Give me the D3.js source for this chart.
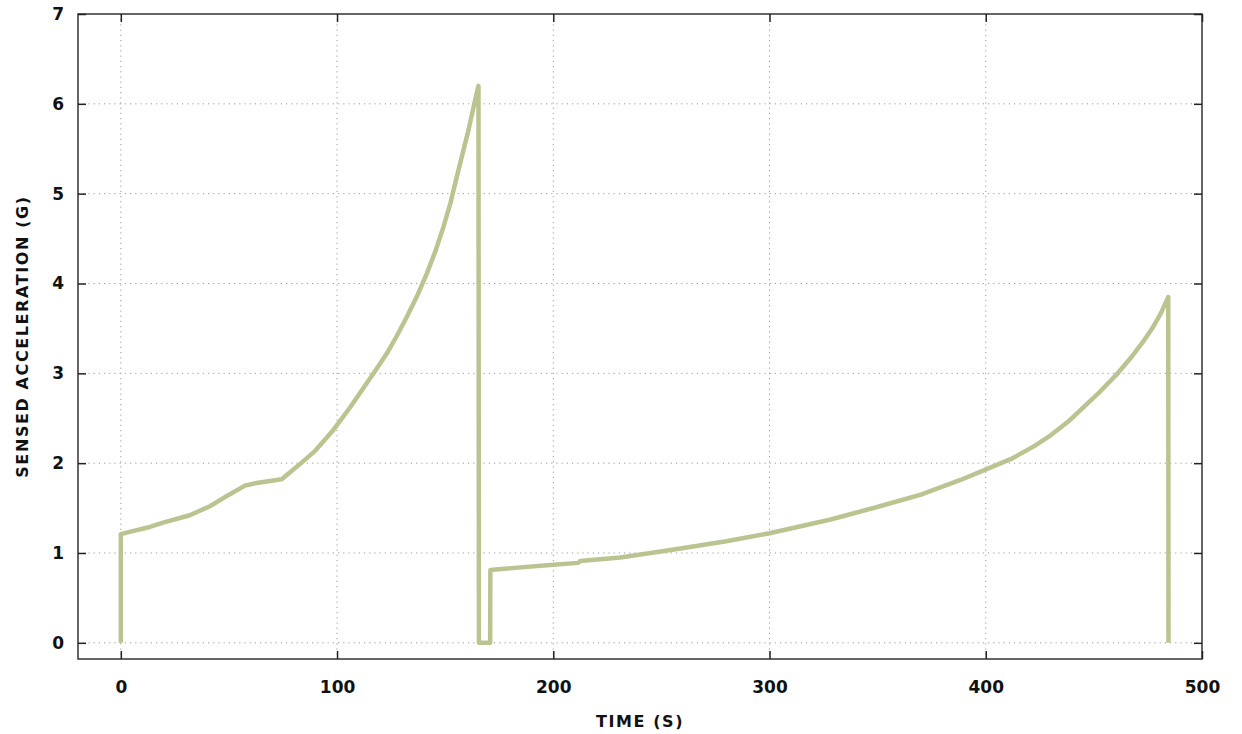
<!DOCTYPE html>
<html>
<head>
<meta charset="utf-8">
<script src="https://cdn.jsdelivr.net/npm/d3@7"></script>
<style>
  html, body { margin: 0; padding: 0; background: #fff; }
  svg { display: block; }
  .tick-label { font-family: "DejaVu Sans", sans-serif; font-weight: bold; font-size: 17px; fill: #111; }
  .axis-title { font-family: "DejaVu Sans", sans-serif; font-weight: bold; font-size: 16px; fill: #111; letter-spacing: 1.6px; }
</style>
</head>
<body>
<svg id="chart" width="1242" height="734"></svg>
<script>
// Sensed acceleration over the flight, two burn phases
const timeS = [0, 0, 5, 13.4, 20, 31.9, 41.2, 48, 57.4, 62.8, 74.4, 84.3, 90, 98.3, 106, 113.7, 118, 123, 127.5, 132.3, 137,
               141.5, 145.5, 149.2, 152.5, 155.4, 158, 160.8, 163, 165.4,
               165.6, 170.8, 170.9, 185, 200, 211.5, 212.5, 231, 245, 258.8, 280, 300, 327.8, 351, 370, 388, 401, 412,
               422.4, 430, 438, 445.5, 453, 461, 467, 473.3, 477.5, 481, 484.4, 484.5];
const accelG = [0, 1.21, 1.24, 1.29, 1.34, 1.42, 1.52, 1.62, 1.75, 1.78, 1.82, 2.02, 2.14, 2.37, 2.62, 2.89, 3.04, 3.22, 3.41, 3.63, 3.86,
                4.11, 4.36, 4.63, 4.9, 5.19, 5.44, 5.71, 5.95, 6.2,
                0.0, 0.0, 0.81, 0.84, 0.87, 0.89, 0.91, 0.95, 1.0, 1.05, 1.13, 1.22, 1.37, 1.52, 1.65, 1.81, 1.94, 2.05,
                2.19, 2.31, 2.46, 2.63, 2.8, 3.0, 3.17, 3.37, 3.52, 3.67, 3.85, 0];
const xTicks = [0, 100, 200, 300, 400, 500];
const yTicks = [0, 1, 2, 3, 4, 5, 6, 7];

const margin = { left: 78, right: 40, top: 14, bottom: 75 };
const W = 1242, H = 734;
const iw = W - margin.left - margin.right;
const ih = H - margin.top - margin.bottom;

const svg = d3.select("#chart");
const g = svg.append("g").attr("transform", `translate(${margin.left},${margin.top})`);

const x = d3.scaleLinear().domain([-19.8, 500]).range([0, iw]);
const y = d3.scaleLinear().domain([-0.18, 7]).range([ih, 0]);

// dotted grid
g.append("g").selectAll("line").data(xTicks.filter(d => d < 500)).join("line")
  .attr("x1", d => x(d)).attr("x2", d => x(d)).attr("y1", 0).attr("y2", ih)
  .attr("stroke", "#9a9a9a").attr("stroke-width", 1).attr("stroke-dasharray", "1.2,4");
g.append("g").selectAll("line").data(yTicks.filter(d => d < 7)).join("line")
  .attr("x1", 0).attr("x2", iw).attr("y1", d => y(d)).attr("y2", d => y(d))
  .attr("stroke", "#9a9a9a").attr("stroke-width", 1).attr("stroke-dasharray", "1.2,4");

// data line
const line = d3.line().x((d, i) => x(timeS[i])).y(d => y(d));
g.append("path").datum(accelG)
  .attr("d", line)
  .attr("fill", "none")
  .attr("stroke", "#b9c490")
  .attr("stroke-width", 4.5)
  .attr("stroke-linejoin", "round")
  .attr("stroke-linecap", "butt");

// frame
g.append("rect").attr("x", 0).attr("y", 0).attr("width", iw).attr("height", ih)
  .attr("fill", "none").attr("stroke", "#333").attr("stroke-width", 1.5);

// axes with inward ticks, mirrored on the opposite sides
const xAxisB = d3.axisBottom(x).tickValues(xTicks).tickSizeInner(-8).tickSizeOuter(0).tickPadding(22);
const xAxisT = d3.axisTop(x).tickValues(xTicks).tickSizeInner(-8).tickSizeOuter(0).tickFormat("");
const yAxisL = d3.axisLeft(y).tickValues(yTicks).tickSizeInner(-8).tickSizeOuter(0).tickPadding(14);
const yAxisR = d3.axisRight(y).tickValues(yTicks).tickSizeInner(-8).tickSizeOuter(0).tickFormat("");

function style(sel) {
  sel.select(".domain").remove();
  sel.selectAll(".tick line").attr("stroke", "#222").attr("stroke-width", 1.5);
  sel.selectAll(".tick text").attr("class", "tick-label").attr("fill", null);
}
g.append("g").attr("transform", `translate(0,${ih})`).call(xAxisB).call(style);
g.append("g").call(xAxisT).call(style);
g.append("g").call(yAxisL).call(style);
g.append("g").attr("transform", `translate(${iw},0)`).call(yAxisR).call(style);

// axis titles
svg.append("text").attr("class", "axis-title")
  .attr("x", 640).attr("y", 727)
  .attr("text-anchor", "middle").text("TIME (S)");
svg.append("text").attr("class", "axis-title")
  .attr("transform", `translate(28,${margin.top + ih / 2}) rotate(-90)`)
  .attr("text-anchor", "middle").text("SENSED ACCELERATION (G)");
</script>
</body>
</html>
